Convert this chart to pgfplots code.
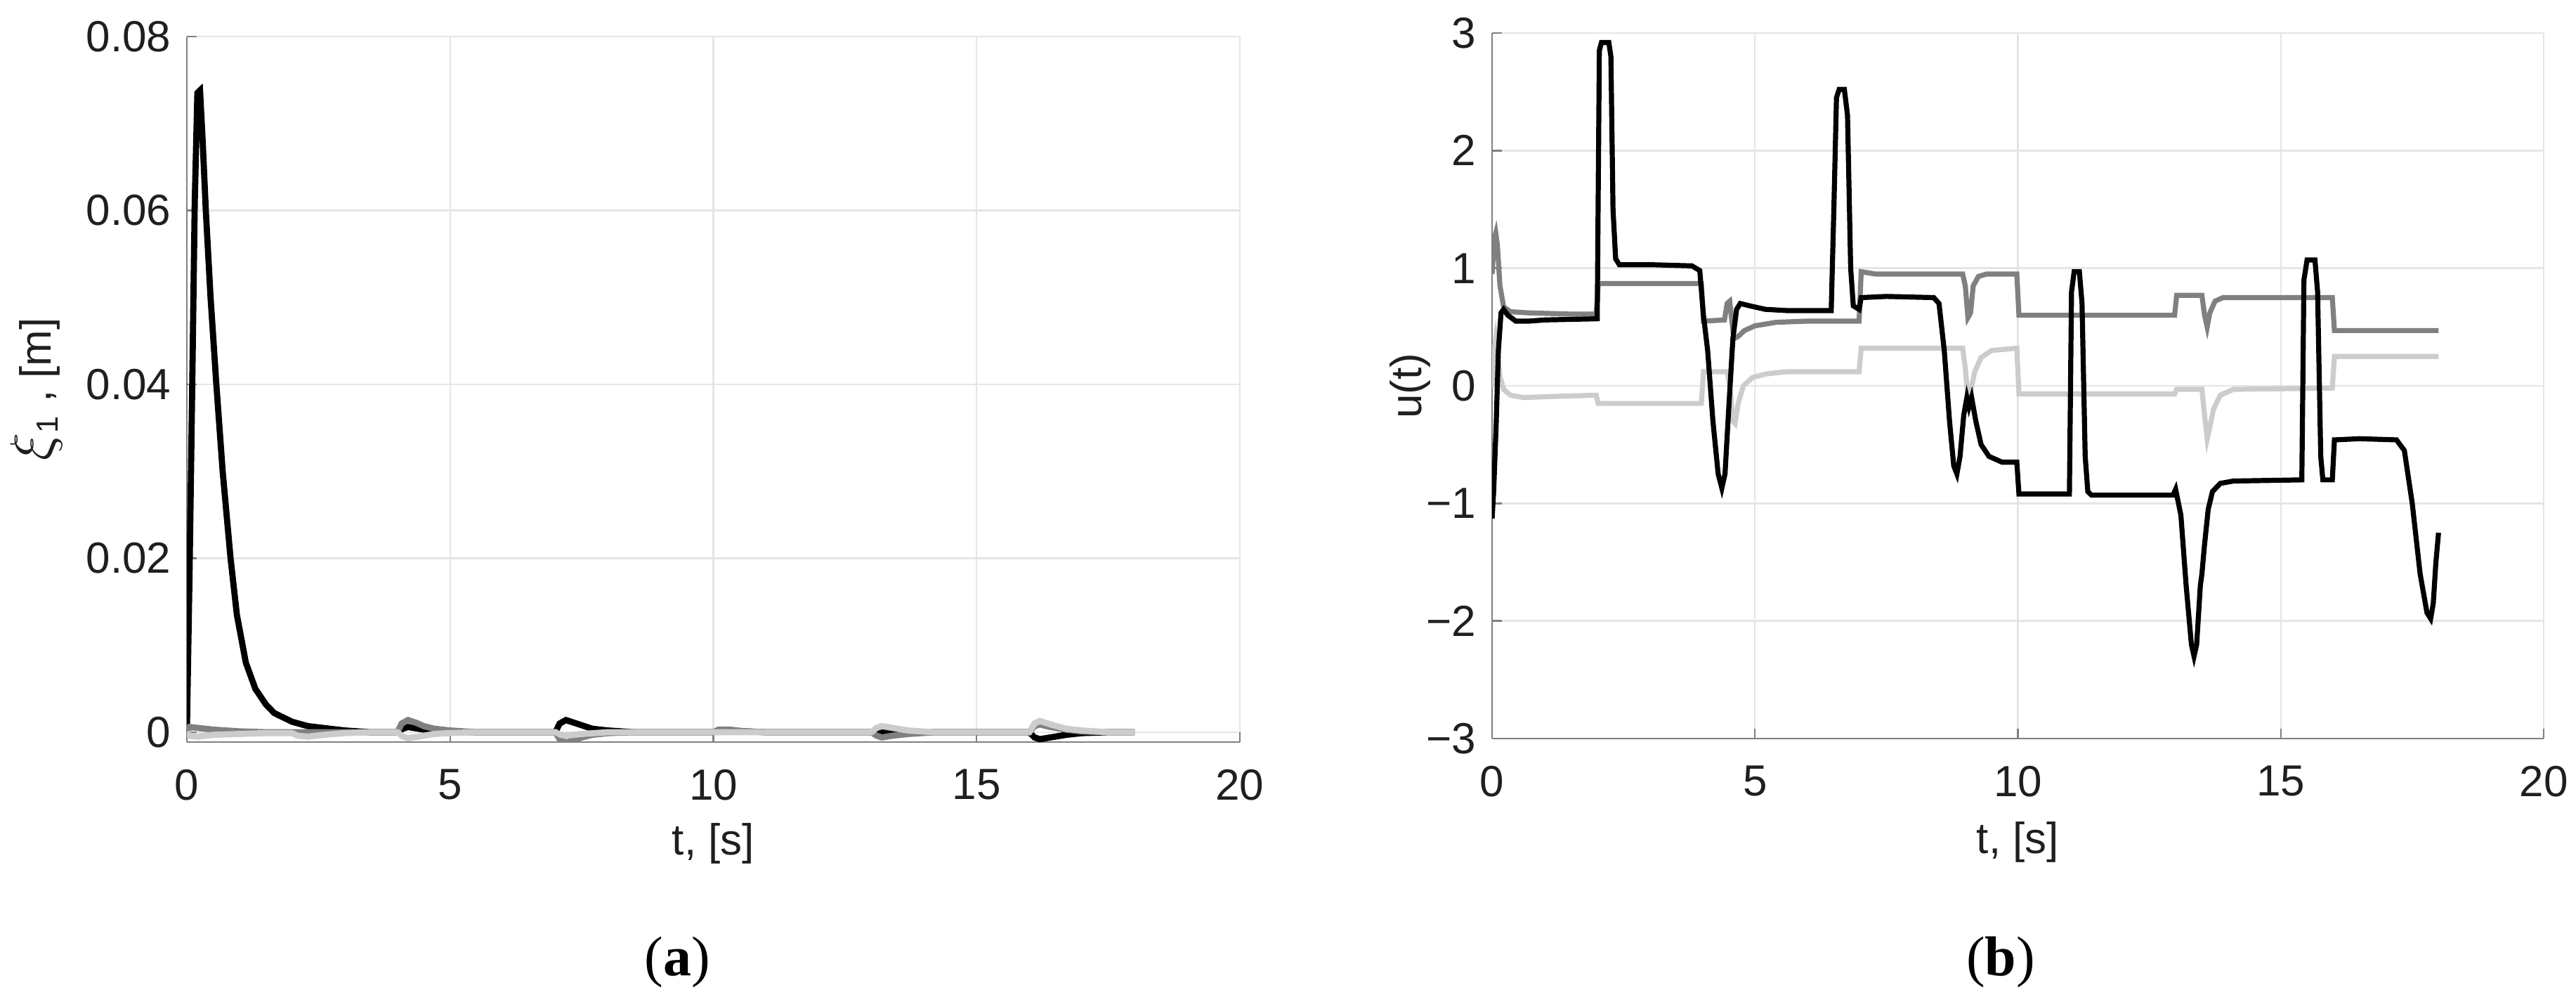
\documentclass[border=0pt]{standalone}
\usepackage{pgfplots}
\pgfplotsset{compat=1.18}
\usepackage{fontspec}
\setmainfont{Liberation Sans}
\newfontfamily\seriffont{Liberation Serif}
\definecolor{dgray}{gray}{0.5}
\definecolor{lgray}{gray}{0.80}
\definecolor{axgray}{gray}{0.5}
\definecolor{txt}{gray}{0.12}
\definecolor{gridc}{gray}{0.90}
\pgfplotsset{
  myax/.style={
    scale only axis,
    font=\fontsize{15.5}{18}\selectfont,
    axis x line*=bottom, axis y line*=left,
    x axis line style={-,axgray,line width=0.6pt},
    y axis line style={-,axgray,line width=0.6pt},
    tick align=inside, major tick length=3.5pt,
    tick style={axgray,line width=0.6pt},
    grid=major, major grid style={gridc,line width=0.6pt},
    xmin=0,xmax=20,xtick={0,5,10,15,20},
    xticklabel style={anchor=north,inner sep=0pt,yshift=-9.5pt,text=txt},
    yticklabel style={anchor=east,inner sep=0pt,xshift=-5.5pt,text=txt},
    /pgf/number format/assume math mode=true,
    scaled y ticks=false, scaled x ticks=false,
    label style={text=txt},
    clip=true,
  }
}
\begin{document}
\begin{tikzpicture}
\useasboundingbox (0,0) rectangle (916.75pt,351.25pt);
\begin{axis}[myax,
  at={(66.5pt,87.25pt)},anchor=south west,
  width=374.75pt,height=251pt,
  ymin=-0.00113,ymax=0.08,
  ytick={0,0.02,0.04,0.06,0.08},
  yticklabels={0,0.02,0.04,0.06,0.08},
  xlabel={t, [s]},
  xlabel style={at={(axis description cs:0.5,-0.144)},anchor=center},
  ylabel={{\fontsize{20}{20}\selectfont$\xi$}\textsubscript{1} , [m]},
  ylabel style={at={(axis description cs:-0.143,0.5)},anchor=center},
]
\addplot[black,line width=2.2pt] coordinates {
(0,0)(0.05,0.018)(0.1,0.039)(0.15,0.061)(0.2,0.0735)(0.25,0.0738)(0.3,0.068)(0.36,0.06)(0.45,0.05)(0.56,0.04)(0.68,0.03)(0.83,0.02)(0.95,0.0135)(1.12,0.008)(1.3,0.005)(1.5,0.0032)(1.66,0.0022)(2.0,0.0012)(2.3,0.0007)(3.0,0.0002)(3.5,0)(4.0,0)(4.1,0.0004)(4.2,0.0006)(4.4,0.0004)(4.7,0.0001)(5.0,0)(7.0,0)(7.08,0.0010)(7.2,0.0014)(7.35,0.0011)(7.5,0.0008)(7.7,0.0004)(8.0,0.0002)(8.5,0)(10.0,0)(10.1,0.0002)(10.3,0.0002)(10.6,0.0001)(11.0,0)(16.0,0)(16.1,-0.0006)(16.2,-0.0008)(16.4,-0.0006)(16.7,-0.0003)(17.0,-0.0001)(17.5,0)(18.0,0)
};
\addplot[dgray,line width=2.2pt] coordinates {
(0,0)(0.05,0.0006)(0.2,0.0005)(0.5,0.0003)(1.0,0.0001)(1.5,0)(4.0,0)(4.08,0.0010)(4.2,0.0014)(4.35,0.0011)(4.5,0.0007)(4.7,0.0004)(5.0,0.0002)(5.5,0)(7.0,0)(7.08,-0.0008)(7.2,-0.0012)(7.35,-0.0009)(7.5,-0.0006)(7.7,-0.0003)(8.0,-0.0001)(8.5,0)(10.0,0)(10.1,0.0003)(10.3,0.0003)(10.6,0.0001)(11.0,0)(13.0,0)(13.1,-0.0004)(13.2,-0.0006)(13.4,-0.0004)(13.7,-0.0002)(14.2,0)(16.0,0)(16.1,0.0007)(16.2,0.0009)(16.4,0.0006)(16.7,0.0003)(17.0,0.0001)(17.5,0)(18.0,0)
};
\addplot[lgray,line width=2.2pt] coordinates {
(0,0)(0.05,-0.0004)(0.2,-0.0005)(0.5,-0.0003)(1.0,-0.0002)(1.5,-0.0001)(2.0,-0.0001)(2.1,-0.0004)(2.3,-0.0005)(2.6,-0.0003)(3.0,-0.0001)(3.5,0)(4.0,0)(4.1,-0.0005)(4.2,-0.0007)(4.4,-0.0005)(4.7,-0.0002)(5.0,-0.0001)(5.5,0)(7.0,0)(7.1,-0.0003)(7.2,-0.0004)(7.5,-0.0002)(8.0,0)(13.0,0)(13.1,0.0005)(13.2,0.0007)(13.4,0.0005)(13.7,0.0002)(14.2,0)(16.0,0)(16.1,0.0010)(16.2,0.0013)(16.4,0.0009)(16.7,0.0004)(17.0,0.0002)(17.5,0)(18.0,0)
};
\end{axis}
\begin{axis}[myax,
  at={(531pt,88.5pt)},anchor=south west,
  width=374.25pt,height=251pt,
  ymin=-3,ymax=3,
  ytick={-3,-2,-1,0,1,2,3},
  yticklabels={−3,−2,−1,0,1,2,3},
  xlabel={t, [s]},
  xlabel style={at={(axis description cs:0.5,-0.147)},anchor=center},
  ylabel={u(t)},
  ylabel style={at={(axis description cs:-0.078,0.5)},anchor=center},
]
\addplot[lgray,line width=1.8pt] coordinates {
(0,-0.02)(0.04,0.3)(0.07,0.4)(0.1,0.3)(0.15,0.08)(0.22,-0.03)(0.35,-0.08)(0.6,-0.1)(1.2,-0.09)(1.98,-0.08)(2.02,-0.15)(3.98,-0.15)(4.02,0.12)(4.47,0.12)(4.52,0.0)(4.58,-0.3)(4.62,-0.32)(4.68,-0.15)(4.78,0.0)(4.95,0.07)(5.2,0.1)(5.6,0.12)(6.98,0.12)(7.02,0.32)(8.95,0.32)(9.0,0.15)(9.05,-0.1)(9.1,-0.05)(9.18,0.12)(9.3,0.24)(9.5,0.3)(9.98,0.32)(10.02,-0.07)(12.98,-0.07)(13.02,-0.03)(13.5,-0.03)(13.55,-0.25)(13.6,-0.45)(13.65,-0.35)(13.72,-0.2)(13.85,-0.08)(14.1,-0.03)(15.98,-0.02)(16.02,0.25)(18.0,0.25)
};
\addplot[dgray,line width=1.8pt] coordinates {
(0,0.95)(0.04,1.25)(0.07,1.3)(0.1,1.2)(0.15,0.85)(0.22,0.67)(0.35,0.63)(0.7,0.62)(1.5,0.61)(1.98,0.61)(2.02,0.87)(3.98,0.87)(4.02,0.55)(4.42,0.56)(4.47,0.7)(4.52,0.72)(4.56,0.55)(4.6,0.4)(4.68,0.42)(4.8,0.47)(5.0,0.51)(5.4,0.54)(6.0,0.55)(6.98,0.55)(7.02,0.97)(7.3,0.95)(8.95,0.95)(9.0,0.85)(9.05,0.58)(9.1,0.62)(9.15,0.85)(9.25,0.93)(9.4,0.95)(9.98,0.95)(10.02,0.6)(12.98,0.6)(13.02,0.77)(13.5,0.77)(13.55,0.6)(13.6,0.5)(13.65,0.62)(13.75,0.72)(13.9,0.75)(15.98,0.75)(16.02,0.47)(18.0,0.47)
};
\addplot[black,line width=1.8pt] coordinates {
(0,-1.13)(0.03,-0.9)(0.08,-0.3)(0.12,0.3)(0.17,0.62)(0.22,0.65)(0.3,0.6)(0.45,0.55)(0.7,0.55)(1.0,0.56)(2.0,0.57)(2.04,2.85)(2.08,2.92)(2.22,2.92)(2.26,2.8)(2.3,1.5)(2.35,1.08)(2.42,1.03)(3.0,1.03)(3.8,1.02)(3.95,0.98)(4.02,0.6)(4.1,0.3)(4.2,-0.3)(4.3,-0.75)(4.37,-0.87)(4.43,-0.75)(4.5,-0.2)(4.58,0.4)(4.65,0.65)(4.72,0.7)(4.9,0.68)(5.2,0.65)(5.6,0.64)(6.45,0.64)(6.5,1.5)(6.55,2.45)(6.6,2.52)(6.7,2.52)(6.76,2.3)(6.82,1.0)(6.87,0.68)(6.98,0.65)(7.02,0.75)(7.5,0.76)(8.4,0.75)(8.5,0.7)(8.6,0.3)(8.7,-0.3)(8.78,-0.68)(8.84,-0.75)(8.9,-0.6)(8.97,-0.25)(9.03,-0.1)(9.07,-0.18)(9.12,-0.1)(9.2,-0.3)(9.3,-0.5)(9.45,-0.6)(9.7,-0.65)(9.98,-0.65)(10.02,-0.92)(10.98,-0.92)(11.02,0.8)(11.07,0.97)(11.17,0.97)(11.22,0.7)(11.28,-0.6)(11.33,-0.9)(11.4,-0.93)(12.5,-0.93)(12.95,-0.93)(13.0,-0.88)(13.1,-1.1)(13.2,-1.7)(13.3,-2.2)(13.35,-2.3)(13.4,-2.2)(13.47,-1.7)(13.5,-1.6)(13.55,-1.35)(13.62,-1.05)(13.7,-0.9)(13.85,-0.83)(14.1,-0.81)(15.4,-0.8)(15.44,0.9)(15.5,1.07)(15.65,1.07)(15.7,0.8)(15.76,-0.6)(15.8,-0.8)(15.98,-0.8)(16.02,-0.46)(16.5,-0.45)(17.2,-0.46)(17.35,-0.55)(17.5,-1.0)(17.65,-1.6)(17.78,-1.93)(17.85,-1.98)(17.9,-1.85)(17.95,-1.5)(18.0,-1.25)
};
\end{axis}
\node[font=\seriffont\fontsize{20}{22}\selectfont,text=black] at (241pt,9pt) {(\textbf{a})};
\node[font=\seriffont\fontsize{20}{22}\selectfont,text=black] at (712pt,9pt) {(\textbf{b})};
\end{tikzpicture}
\end{document}
